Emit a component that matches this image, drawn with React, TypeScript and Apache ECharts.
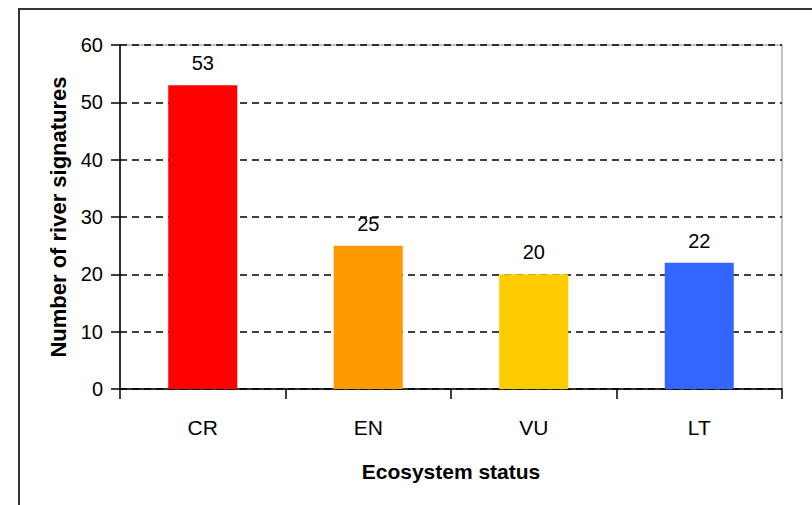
import React, { useEffect, useRef } from "react";
import * as echarts from "echarts";

const categories = ["CR", "EN", "VU", "LT"];
const values = [53, 25, 20, 22];
const barColors = ["#FF0000", "#FF9900", "#FFCC00", "#3366FF"];
const yTicks = { min: 0, max: 60, interval: 10 };

export default function App() {
  const ref = useRef<HTMLDivElement>(null);
  useEffect(() => {
    if (!ref.current) return;
    const chart = echarts.init(ref.current, undefined, { renderer: "svg" });
    chart.setOption({
      animation: false,
      backgroundColor: "#ffffff",
      textStyle: { fontFamily: "Liberation Sans, Arial, sans-serif" },
      graphic: [
        {
          type: "rect",
          shape: { x: 19, y: 9, width: 900, height: 600 },
          style: { fill: "none", stroke: "#333333", lineWidth: 2 },
          silent: true,
        },
      ],
      grid: {
        left: 120,
        top: 45,
        right: 30,
        bottom: 116,
        show: true,
        borderColor: "#888888",
        borderWidth: 1,
        backgroundColor: "transparent",
      },
      xAxis: {
        type: "category",
        data: categories,
        name: "Ecosystem status",
        nameLocation: "middle",
        nameGap: 72,
        nameTextStyle: { fontSize: 21, fontWeight: "bold", color: "#000" },
        axisLine: { show: true, lineStyle: { color: "#000", width: 1.5 } },
        axisTick: { show: true, length: 10, lineStyle: { color: "#000", width: 1.5 } },
        axisLabel: { fontSize: 21, color: "#000", margin: 28 },
        splitLine: { show: false },
      },
      yAxis: {
        type: "value",
        min: yTicks.min,
        max: yTicks.max,
        interval: yTicks.interval,
        name: "Number of river signatures",
        nameLocation: "middle",
        nameGap: 50,
        nameTextStyle: { fontSize: 22, fontWeight: "bold", color: "#000" },
        axisLine: { show: true, lineStyle: { color: "#000", width: 1.5 } },
        axisTick: { show: true, length: 9, lineStyle: { color: "#000", width: 1.5 } },
        axisLabel: { fontSize: 20, color: "#000", margin: 17 },
        splitLine: {
          show: true,
          lineStyle: { color: "#000", width: 1.5, type: [7, 5] },
        },
      },
      series: [
        {
          type: "bar",
          barWidth: 69,
          data: values.map((v, i) => ({ value: v, itemStyle: { color: barColors[i] } })),
          label: {
            show: true,
            position: "top",
            distance: 12,
            fontSize: 20,
            color: "#000",
          },
        },
      ],
    });
    return () => chart.dispose();
  }, []);
  return (
    <div
      ref={ref}
      style={{ position: "fixed", left: 0, top: 0, width: 812, height: 505 }}
    />
  );
}
